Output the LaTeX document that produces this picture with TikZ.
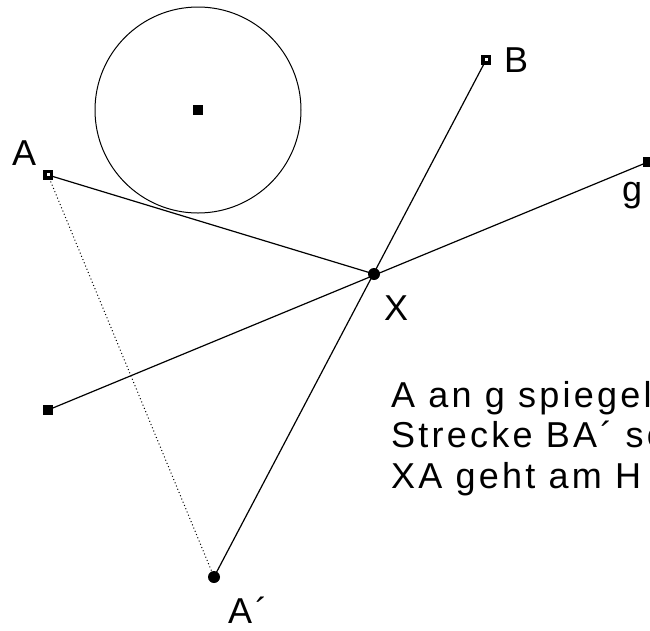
\documentclass[tikz,border=0pt]{standalone}
\usepackage{fontspec}
\setmainfont{Liberation Sans}[LetterSpace=9]
\begin{document}
\begin{tikzpicture}[x=1pt,y=-1pt,
  ln/.style={line width=1.2pt,black},
  dotln/.style={line width=1pt,black,dash pattern=on 1pt off 2.5pt},
  sq/.style={rectangle,fill=black,minimum size=10pt,inner sep=0pt},
  dot/.style={circle,fill=black,minimum size=12pt,inner sep=0pt},
  lbl/.style={anchor=base west,inner sep=0pt,font=\fontsize{36}{40.5}\selectfont}]
\useasboundingbox (0,0) rectangle (650,630);
\clip (0,0) rectangle (650,630);
\coordinate (A) at (48,175);
\coordinate (B) at (486,60);
\coordinate (X) at (374,274);
\coordinate (Ap) at (214,577);
\coordinate (G1) at (48,410);
\coordinate (G2) at (648,162);
\coordinate (M) at (198,110);
% circle
\draw[line width=1pt] (M) circle[radius=103];
% lines
\draw[dotln] (A) -- (Ap);
\draw[ln] (A) -- (X);
\draw[ln] (B) -- (Ap);
\draw[ln] (G1) -- (G2);
% markers
\node[sq] (nM) at (M) {};
\node[sq] (nG1) at (G1) {};
\node[sq] (nG2) at (G2) {};
\node[sq] (nA) at (A) {};
\fill[white] ([shift={(-1.5,-2)}]nA.center) rectangle ++(3,3);
\node[sq] (nB) at (B) {};
\fill[white] ([shift={(-1.5,-2)}]nB.center) rectangle ++(3,3);
\node[dot] (nX) at (X) {};
\node[dot] (nAp) at (Ap) {};
% labels
\node[lbl] (lA) at (12,165) {A};
\node[lbl] (lB) at (504,72) {B};
\node[lbl] (lX) at (384,320) {X};
\node[lbl] (lg) at (622,201) {g};
\node[lbl] (lAp) at (228,623) {A´};
% text
\node[lbl] (t1) at (391,407) {A an g spiegel};
\node[lbl] (t2) at (391,447.5) {Strecke BA´ sc};
\node[lbl] (t3) at (391,488) {XA geht am H};
\end{tikzpicture}
\end{document}
